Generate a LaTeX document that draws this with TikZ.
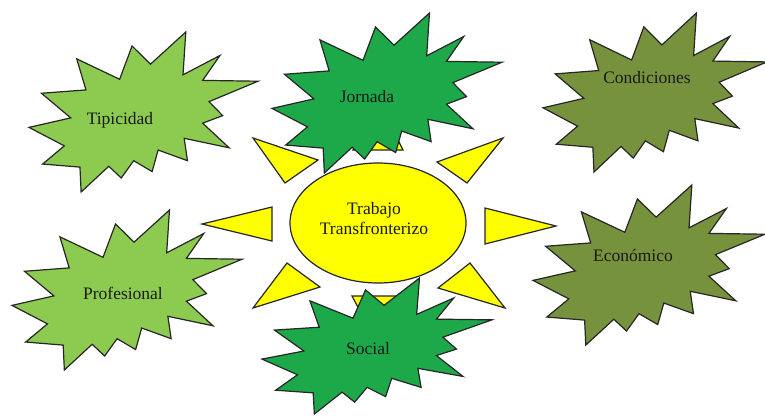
\documentclass[tikz,border=0pt]{standalone}
\usepackage{fontspec}
\setmainfont{Liberation Serif}
\usetikzlibrary{shapes.geometric}
\definecolor{lightgreen}{HTML}{8CCB50}
\definecolor{midgreen}{HTML}{1DA84A}
\definecolor{olivegreen}{HTML}{76923C}
\definecolor{sunyellow}{HTML}{FFFF00}
% outline of one explosion, in a unit box
\def\burstpath{(0.5306,0.2010) -- (0.6847,0) -- (0.6725,0.2675) -- (0.8337,0.1469)
  -- (0.7583,0.3024) -- (1,0.3076) -- (0.7863,0.4353) -- (0.8458,0.5227)
  -- (0.7583,0.5699) -- (0.8739,0.7237) -- (0.6778,0.6644) -- (0.6918,0.8042)
  -- (0.5639,0.7377) -- (0.5376,0.8723) -- (0.4570,0.8042) -- (0.4028,0.9126)
  -- (0.3485,0.8391) -- (0.2276,1) -- (0.2225,0.8444) -- (0.0595,0.8252)
  -- (0.1542,0.7116) -- (0,0.5962) -- (0.1822,0.5367) -- (0.0543,0.3829)
  -- (0.2487,0.3619) -- (0.2084,0.1678) -- (0.3958,0.2955) -- (0.4501,0.0874) -- cycle}
\newcommand{\explosion}[5]{\filldraw[burst, fill=#1, shift={(#2,#3)}, xscale=#4, yscale=#5] \burstpath;}

\begin{document}
\begin{tikzpicture}[x=1pt, y=-1pt,
    burst/.style={draw=black!85, line width=1.2pt, line join=miter},
    ray/.style={draw=black!85, fill=sunyellow, line width=1.2pt},
    tag/.style={inner sep=0pt, anchor=base, text=black!90,
                font=\rmfamily\fontsize{17.5}{20}\selectfont}]
    \useasboundingbox (0,0) rectangle (765,418);
    % rays of the sun
    \filldraw[ray] (202,224) -- (272,207) -- (272,241) -- cycle;
    \filldraw[ray] (556,226) -- (485,208) -- (485,244) -- cycle;
    \filldraw[ray] (253,138) -- (318,160) -- (285,183) -- cycle;
    \filldraw[ray] (503,138) -- (437,162) -- (467,183) -- cycle;
    \filldraw[ray] (253,308) -- (287,263) -- (320,287) -- cycle;
    \filldraw[ray] (505,308) -- (470,263) -- (438,288) -- cycle;
    \filldraw[ray] (378,100) -- (353,150) -- (403,150) -- cycle;
    \filldraw[ray] (378,345) -- (352,296) -- (404,296) -- cycle;
    \node[ellipse, draw=black!85, fill=sunyellow, line width=1.2pt,
          minimum width=176, minimum height=120, inner sep=0pt] (sol) at (378,223) {};
    \node[align=center, inner sep=0pt, text=black!90,
          font=\rmfamily\fontsize{17.5}{20}\selectfont] (trabajo) at (374,219) {Trabajo\\Transfronterizo};
    % explosions
    \explosion{lightgreen}{29}{32}{229}{160}
    \explosion{midgreen}{272}{13}{230}{160}
    \explosion{olivegreen}{543}{13}{224}{159}
    \explosion{lightgreen}{12}{210}{230}{160}
    \explosion{midgreen}{262}{278}{230}{136}
    \explosion{olivegreen}{533}{185}{232}{160}
    \node[tag] (tipicidad) at (120,124) {Tipicidad};
    \node[tag] (jornada) at (367,102) {Jornada};
    \node[tag] (condiciones) at (647,83) {Condiciones};
    \node[tag] (profesional) at (123,299) {Profesional};
    \node[tag] (social) at (368,354) {Social};
    \node[tag] (economico) at (633,261) {Económico};
\end{tikzpicture}
\end{document}
